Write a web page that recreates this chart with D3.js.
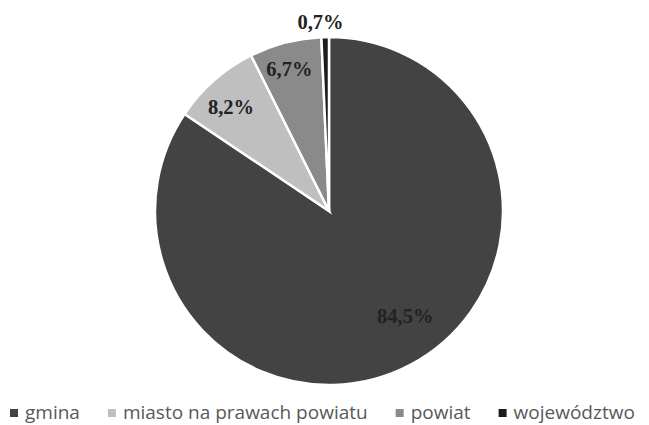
<!DOCTYPE html>
<html>
<head>
<meta charset="utf-8">
<script src="https://cdn.jsdelivr.net/npm/d3@7"></script>
<style>
  body { margin: 0; background: #fff; }
  svg { display: block; }
</style>
</head>
<body>
<svg id="chart" width="649" height="425"></svg>
<script>
// data
var categories = ["gmina", "miasto na prawach powiatu", "powiat", "województwo"];
var shares = [84.5, 8.2, 6.7, 0.7];
var labels = ["84,5%", "8,2%", "6,7%", "0,7%"];
var colors = ["#434343", "#bfbfbf", "#8a8a8a", "#1c1c1c"];

// label placement (fraction of radius, angle nudge in degrees)
var labelRadius = [0.745, 0.82, 0.85, 1.09];
var labelNudge = [-8, -2, -1, -1.3];

var svg = d3.select("#chart");
var cx = 329, cy = 211, r = 174;

var pie = d3.pie().sort(null).value(function(d) { return d; });
var arcs = pie(shares);

var arc = d3.arc().innerRadius(0).outerRadius(r);

var g = svg.append("g").attr("transform", "translate(" + cx + "," + cy + ")");

g.selectAll("path.slice")
    .data(arcs)
    .enter().append("path")
    .attr("class", "slice")
    .attr("d", arc)
    .attr("fill", function(d, i) { return colors[i]; })
    .attr("stroke", "#fff")
    .attr("stroke-width", 2.5)
    .attr("stroke-linejoin", "miter");

g.selectAll("text.lbl")
    .data(arcs)
    .enter().append("text")
    .attr("class", "lbl")
    .attr("transform", function(d, i) {
	var a = (d.startAngle + d.endAngle) / 2 + labelNudge[i] * Math.PI / 180;
	var rr = labelRadius[i] * r;
	return "translate(" + (Math.sin(a) * rr) + "," + (-Math.cos(a) * rr) + ")";
    })
    .attr("text-anchor", "middle")
    .attr("dy", "0.35em")
    .attr("font-family", "'Liberation Serif', 'Times New Roman', serif")
    .attr("font-weight", "bold")
    .attr("font-size", 20.5)
    .attr("fill", "#222")
    .text(function(d, i) { return labels[i]; });

// legend
var legend = svg.append("g").attr("transform", "translate(10,412)");
var x = 0;
categories.forEach(function(c, i) {
    var item = legend.append("g").attr("transform", "translate(" + x + ",0)");
    item.append("rect")
	.attr("x", 0).attr("y", -3)
	.attr("width", 8).attr("height", 8)
	.attr("fill", colors[i]);
    var t = item.append("text")
	.attr("x", 15)
	.attr("dy", "0.35em")
	.attr("font-family", "'Open Sans', sans-serif")
	.attr("font-size", 19)
	.attr("fill", "#595959")
	.text(c);
    x += 15 + t.node().getComputedTextLength() + 28;
});
</script>
</body>
</html>
